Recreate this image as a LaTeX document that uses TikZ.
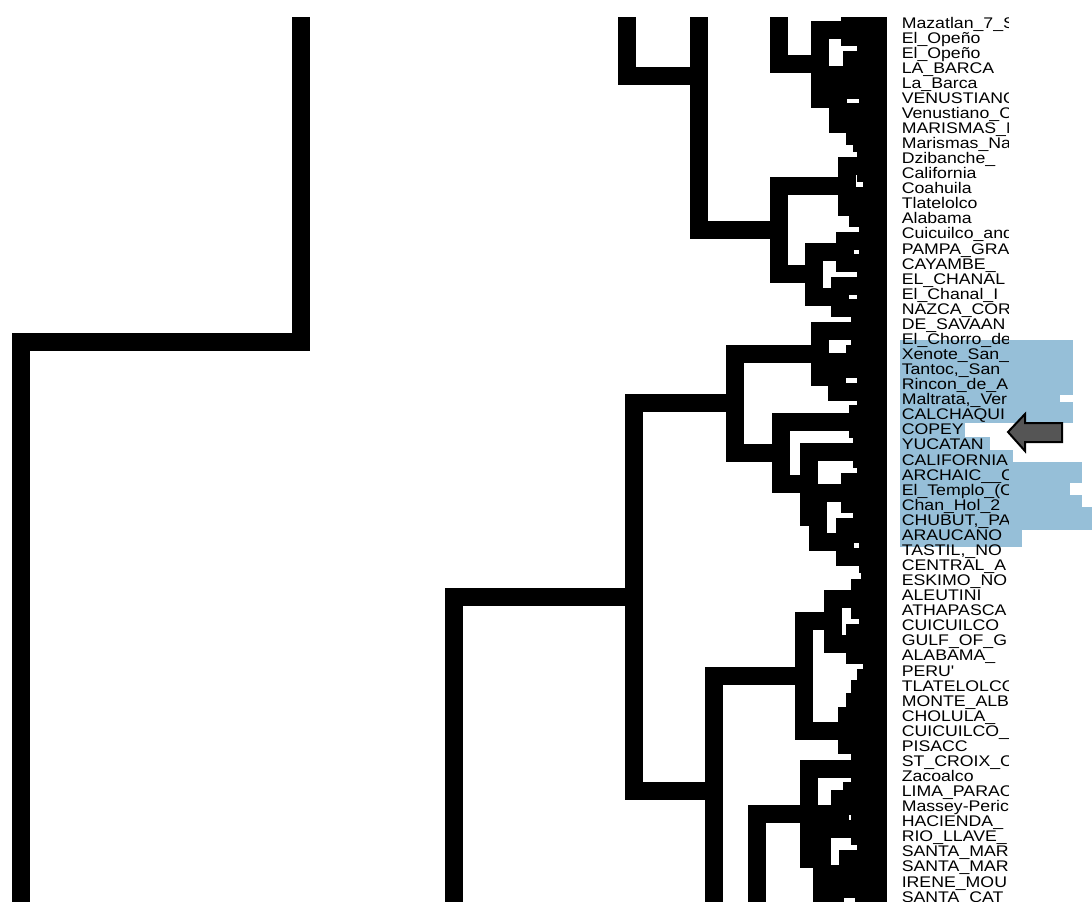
\documentclass[tikz,border=0pt]{standalone}
\usepackage{fontspec}
\newfontfamily\labelfont[FakeStretch=1.15]{Liberation Sans}
\definecolor{hlblue}{RGB}{150,191,216}
\definecolor{arrowgray}{RGB}{85,85,85}
\tikzset{
  branch/.style={line width=13.5pt, line cap=rect, line join=miter},
  leaflabel/.style={anchor=base west, inner sep=0pt, font=\labelfont\fontsize{11.55pt}{11.55pt}\selectfont},
  hilite/.style={fill=hlblue},
  pointer/.style={draw=black, fill=arrowgray, line width=1.5pt, line join=miter}
}

\begin{document}
\begin{tikzpicture}[x=0.75pt, y=-0.75pt]
  \useasboundingbox (0,0) rectangle (1092,901);

  % highlighted group
  \fill[hilite] (900,340) rectangle (1073,395);
  \fill[hilite] (900,395) rectangle (1060,402);
  \fill[hilite] (900,402) rectangle (1073,423);
  \fill[hilite] (900,423) rectangle (965,437);
  \fill[hilite] (900,437) rectangle (990,450);
  \fill[hilite] (900,450) rectangle (1013,462);
  \fill[hilite] (900,462) rectangle (1082,483);
  \fill[hilite] (900,483) rectangle (1070,495);
  \fill[hilite] (900,495) rectangle (1082,507);
  \fill[hilite] (900,507) rectangle (1092,530);
  \fill[hilite] (900,530) rectangle (1022,547);

  \begin{scope}
  \clip (0,17) rectangle (1092,901);
  % upper clades
  \draw[branch] (301,-40) |- (21,342) -- (21,1000);
  \draw[branch] (627,-40) |- (699,76);
  \draw[branch] (699,-40) |- (779,230.2);
  \draw[branch] (779,-40) |- (820,64.3);
  \draw[branch] (850,29.5) -| (820,99.1) -- (838,99.1);
  \draw[branch] (878,22) -| (850,37) -- (878,37);
  \draw[branch] (852,74.5) -| (838,123.75) -- (855,123.75);
  \draw[branch] (866,59.5) -| (852,89.5) -- (868,89.5);
  \draw[branch] (878,52) -| (866,67) -- (878,67);
  \draw[branch] (878,82) -| (868,97) -- (878,97);
  \draw[branch] (878,112) -| (855,135.5) -- (862,135.5);
  \draw[branch] (878,128) -| (862,143) -- (878,143);
  \draw[branch] (847,186.1) -| (779,274.25) -- (814,274.25);
  \draw[branch] (866,165.5) -| (847,206.75) -- (858,206.75);
  \draw[branch] (878,158) -| (866,173) -- (878,173);
  \draw[branch] (872,195.5) -| (858,218) -- (878,218);
  \draw[branch] (878,188) -| (872,203) -- (878,203);
  \draw[branch] (845,251.75) -| (814,296.75) -- (840,296.75);
  \draw[branch] (868,240.5) -| (845,263) -- (878,263);
  \draw[branch] (878,233) -| (868,248) -- (878,248);
  \draw[branch] (866,285.5) -| (840,308) -- (878,308);
  \draw[branch] (878,278) -| (866,293) -- (878,293);
  % lower clades
  \draw[branch] (735,403.2) -| (634,791) -- (714,791);
  \draw[branch] (634,597.1) -| (454,1000);
  \draw[branch] (820,353.5) -| (735,452.9) -- (781,452.9);
  \draw[branch] (860,330.5) -| (820,376.5) -- (837,376.5);
  \draw[branch] (878,323) -| (860,338) -- (878,338);
  \draw[branch] (855,361.5) -| (837,391.5) -- (866,391.5);
  \draw[branch] (878,354) -| (855,369) -- (878,369);
  \draw[branch] (878,384) -| (866,399) -- (878,399);
  \draw[branch] (858,421.5) -| (781,484.3) -- (809,484.3);
  \draw[branch] (878,414) -| (858,429) -- (878,429);
  \draw[branch] (862,451.5) -| (809,517.1) -- (818,517.1);
  \draw[branch] (878,444) -| (862,459) -- (878,459);
  \draw[branch] (850,492.75) -| (818,541.5) -- (845,541.5);
  \draw[branch] (866,481.5) -| (850,504) -- (878,504);
  \draw[branch] (878,474) -| (866,489) -- (878,489);
  \draw[branch] (862,526.5) -| (845,556.5) -- (868,556.5);
  \draw[branch] (878,519) -| (862,534) -- (878,534);
  \draw[branch] (878,549) -| (868,564) -- (878,564);
  \draw[branch] (804,675.9) -| (714,1000);
  \draw[branch] (833,621.25) -| (804,730.5) -- (847,730.5);
  \draw[branch] (860,598.75) -| (833,643.75) -- (855,643.75);
  \draw[branch] (878,580) -| (870,595) -- (878,595);
  \draw[branch] (870,587.5) -| (860,610) -- (878,610);
  \draw[branch] (878,625) -| (868,640) -- (878,640);
  \draw[branch] (868,632.5) -| (855,655) -- (878,655);
  \draw[branch] (878,670) -| (872,685) -- (878,685);
  \draw[branch] (872,677.5) -| (866,700) -- (878,700);
  \draw[branch] (866,688.75) -| (860,715) -- (878,715);
  \draw[branch] (860,701.9) -| (855,730) -- (878,730);
  \draw[branch] (855,715.9) -| (847,745) -- (878,745);
  \draw[branch] (809,813.5) -| (757,1000);
  \draw[branch] (860,768.5) -| (809,858.5) -- (822,858.5);
  \draw[branch] (878,761) -| (860,776) -- (878,776);
  \draw[branch] (840,813.5) -| (822,903.5) -- (835,903.5);
  \draw[branch] (852,798.5) -| (840,828.5) -- (860,828.5);
  \draw[branch] (878,791) -| (852,806) -- (878,806);
  \draw[branch] (878,821) -| (860,836) -- (878,836);
  \draw[branch] (848,873.5) -| (835,933.5) -- (850,933.5);
  \draw[branch] (866,858.5) -| (848,888.5) -- (864,888.5);
  \draw[branch] (878,851) -| (866,866) -- (878,866);
  \draw[branch] (878,881) -| (864,896) -- (878,896);
  \draw[branch] (862,918.5) -| (850,948.5) -- (866,948.5);
  \draw[branch] (878,911) -| (862,926) -- (878,926);
  \draw[branch] (878,941) -| (866,956) -- (878,956);
  \end{scope}

  \begin{scope}
  \clip (0,0) rectangle (1008,901);
  \node (leaf00) [leaflabel] at (901.5,28) {Mazatlan\_7\_S};
  \node (leaf01) [leaflabel] at (901.5,43.07) {El\_Opeño};
  \node (leaf02) [leaflabel] at (901.5,58.14) {El\_Opeño};
  \node (leaf03) [leaflabel] at (901.5,73.21) {LA\_BARCA};
  \node (leaf04) [leaflabel] at (901.5,88.28) {La\_Barca};
  \node (leaf05) [leaflabel] at (901.5,103.35) {VENUSTIANO};
  \node (leaf06) [leaflabel] at (901.5,118.42) {Venustiano\_C};
  \node (leaf07) [leaflabel] at (901.5,133.49) {MARISMAS\_N};
  \node (leaf08) [leaflabel] at (901.5,148.56) {Marismas\_Na};
  \node (leaf09) [leaflabel] at (901.5,163.63) {Dzibanche\_};
  \node (leaf10) [leaflabel] at (901.5,178.7) {California};
  \node (leaf11) [leaflabel] at (901.5,193.77) {Coahuila};
  \node (leaf12) [leaflabel] at (901.5,208.84) {Tlatelolco};
  \node (leaf13) [leaflabel] at (901.5,223.91) {Alabama};
  \node (leaf14) [leaflabel] at (901.5,238.98) {Cuicuilco\_and};
  \node (leaf15) [leaflabel] at (901.5,254.05) {PAMPA\_GRA};
  \node (leaf16) [leaflabel] at (901.5,269.12) {CAYAMBE\_};
  \node (leaf17) [leaflabel] at (901.5,284.19) {EL\_CHANAL};
  \node (leaf18) [leaflabel] at (901.5,299.26) {El\_Chanal\_I};
  \node (leaf19) [leaflabel] at (901.5,314.33) {NAZCA\_COR};
  \node (leaf20) [leaflabel] at (901.5,329.4) {DE\_SAVAAN};
  \node (leaf21) [leaflabel] at (901.5,344.47) {El\_Chorro\_de};
  \node (leaf22) [leaflabel] at (901.5,359.54) {Xenote\_San\_};
  \node (leaf23) [leaflabel] at (901.5,374.61) {Tantoc,\_San};
  \node (leaf24) [leaflabel] at (901.5,389.68) {Rincon\_de\_A};
  \node (leaf25) [leaflabel] at (901.5,404.75) {Maltrata,\_Ver};
  \node (leaf26) [leaflabel] at (901.5,419.82) {CALCHAQUI};
  \node (leaf27) [leaflabel] at (901.5,434.89) {COPEY};
  \node (leaf28) [leaflabel] at (901.5,449.96) {YUCATAN};
  \node (leaf29) [leaflabel] at (901.5,465.03) {CALIFORNIA};
  \node (leaf30) [leaflabel] at (901.5,480.1) {ARCHAIC\_\_C};
  \node (leaf31) [leaflabel] at (901.5,495.17) {El\_Templo\_(C};
  \node (leaf32) [leaflabel] at (901.5,510.24) {Chan\_Hol\_2};
  \node (leaf33) [leaflabel] at (901.5,525.31) {CHUBUT,\_PA};
  \node (leaf34) [leaflabel] at (901.5,540.38) {ARAUCANO};
  \node (leaf35) [leaflabel] at (901.5,555.45) {TASTIL,\_NO};
  \node (leaf36) [leaflabel] at (901.5,570.52) {CENTRAL\_A};
  \node (leaf37) [leaflabel] at (901.5,585.59) {ESKIMO\_NO};
  \node (leaf38) [leaflabel] at (901.5,600.66) {ALEUTINI};
  \node (leaf39) [leaflabel] at (901.5,615.73) {ATHAPASCA};
  \node (leaf40) [leaflabel] at (901.5,630.8) {CUICUILCO};
  \node (leaf41) [leaflabel] at (901.5,645.87) {GULF\_OF\_G};
  \node (leaf42) [leaflabel] at (901.5,660.94) {ALABAMA\_};
  \node (leaf43) [leaflabel] at (901.5,676.01) {PERU\textquotesingle};
  \node (leaf44) [leaflabel] at (901.5,691.08) {TLATELOLCO};
  \node (leaf45) [leaflabel] at (901.5,706.15) {MONTE\_ALB};
  \node (leaf46) [leaflabel] at (901.5,721.22) {CHOLULA\_};
  \node (leaf47) [leaflabel] at (901.5,736.29) {CUICUILCO\_};
  \node (leaf48) [leaflabel] at (901.5,751.36) {PISACC};
  \node (leaf49) [leaflabel] at (901.5,766.43) {ST\_CROIX\_C};
  \node (leaf50) [leaflabel] at (901.5,781.5) {Zacoalco};
  \node (leaf51) [leaflabel] at (901.5,796.57) {LIMA\_PARAC};
  \node (leaf52) [leaflabel] at (901.5,811.64) {Massey-Peric};
  \node (leaf53) [leaflabel] at (901.5,826.71) {HACIENDA\_};
  \node (leaf54) [leaflabel] at (901.5,841.78) {RIO\_LLAVE\_};
  \node (leaf55) [leaflabel] at (901.5,856.85) {SANTA\_MAR};
  \node (leaf56) [leaflabel] at (901.5,871.92) {SANTA\_MAR};
  \node (leaf57) [leaflabel] at (901.5,886.99) {IRENE\_MOU};
  \node (leaf58) [leaflabel] at (901.5,902.06) {SANTA\_CAT};
  \end{scope}

  \draw[pointer] (1008,432) -- (1025,414) -- (1025,423) -- (1062,423) -- (1062,442) -- (1025,442) -- (1025,451) -- cycle;
\end{tikzpicture}
\end{document}
